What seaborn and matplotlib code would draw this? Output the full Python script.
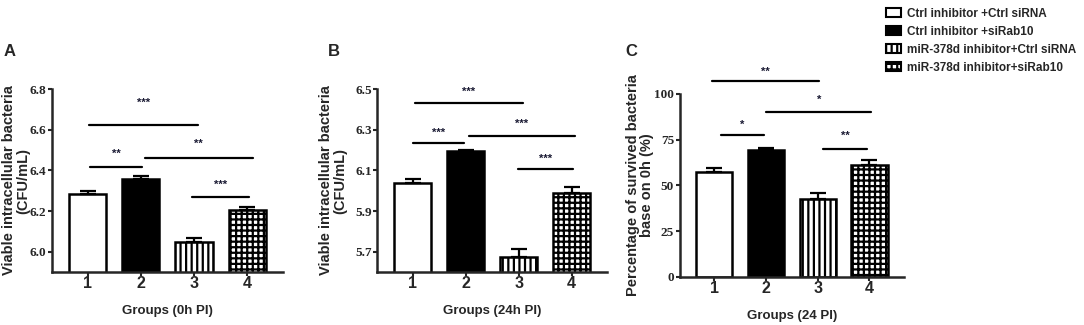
import numpy as np
import pandas as pd
import matplotlib
matplotlib.use('Agg')
import matplotlib.pyplot as plt
from matplotlib.patches import Patch
import seaborn as sns

groups = ['1', '2', '3', '4']
legend_labels = ['Ctrl inhibitor +Ctrl siRNA', 'Ctrl inhibitor +siRab10',
                 'miR-378d inhibitor+Ctrl siRNA', 'miR-378d inhibitor+siRab10']

# panel A - 0h PI
a_mean = [6.283, 6.360, 6.050, 6.205]
a_err = [0.017, 0.012, 0.017, 0.017]
# panel B - 24h PI
b_mean = [6.040, 6.194, 5.676, 5.990]
b_err = [0.018, 0.007, 0.035, 0.028]
# panel C - % survived
c_mean = [57.3, 69.2, 42.5, 61.0]
c_err = [2.0, 1.3, 3.3, 2.7]

# significance brackets: (start, end, line y, text y, stars)
a_sig = [(0.02, 2.08, 6.624, 6.73, '***'), (0.04, 1.03, 6.415, 6.48, '**'),
         (1.07, 3.11, 6.46, 6.53, '**'), (1.97, 3.04, 6.27, 6.33, '***')]
b_sig = [(0.04, 2.08, 6.43, 6.485, '***'), (0.0, 0.96, 6.237, 6.285, '***'),
         (1.06, 3.06, 6.27, 6.33, '***'), (1.98, 3.02, 6.105, 6.155, '***')]
c_sig = [(-0.04, 2.03, 107, 112, '**'), (1.0, 3.04, 90, 96.5, '*'),
         (0.12, 0.96, 77.6, 83, '*'), (2.1, 2.96, 70, 77, '**')]

sns.set_style('ticks')
plt.rcParams['font.family'] = ['Liberation Sans', 'DejaVu Sans']
plt.rcParams['hatch.linewidth'] = 1.6

fills = ['white', 'black', 'white', 'white']
hatches = [None, None, '|||', '+++']

fig = plt.figure(figsize=(10.84, 3.25), dpi=100)
ax_a = fig.add_axes([0.048, 0.163, 0.213, 0.563])
ax_b = fig.add_axes([0.348, 0.163, 0.212, 0.563])
ax_c = fig.add_axes([0.627, 0.148, 0.207, 0.563])


def panel(ax, mean, err, sig, ylim, yticks, fmt, ylabel, xlabel, label_x):
    df = pd.DataFrame({'group': groups, 'value': mean})
    sns.barplot(data=df, x='group', y='value', hue='group', palette=fills,
                legend=False, width=0.7, edgecolor='black', linewidth=1.8,
                errorbar=None, ax=ax)
    for patch, h in zip(ax.patches, hatches):
        if h:
            patch.set_hatch(h)
    ax.errorbar(range(len(groups)), mean, yerr=[np.zeros(len(err)), err],
                fmt='none', ecolor='black', elinewidth=1.6, capsize=6,
                capthick=1.6, zorder=1)
    for x0, x1, y, ty, s in sig:
        ax.plot([x0, x1], [y, y], color='black', lw=1.6, clip_on=False)
        ax.text((x0 + x1) / 2, ty, s, ha='center', va='center', fontsize=8,
                fontweight='bold', color='#1a1a33', clip_on=False)
    ax.set_xlim(-0.67, 3.67)
    ax.set_ylim(*ylim)
    ax.set_yticks(yticks)
    ax.set_yticklabels([fmt.format(t) for t in yticks], family='Liberation Serif',
                       fontweight='bold', fontsize=9.5)
    ax.set_xticks(range(4))
    ax.set_xticklabels(groups, fontweight='bold', fontsize=11.5)
    ax.tick_params(axis='y', length=3, width=1.5, pad=1)
    ax.tick_params(axis='x', length=3, width=1.5, pad=0)
    for sp in ['left', 'bottom']:
        ax.spines[sp].set_linewidth(1.8)
    sns.despine(ax=ax)
    ax.set_ylabel(ylabel, fontweight='bold', fontsize=10.5, linespacing=1.0)
    ax.yaxis.set_label_coords(label_x, 0.5)
    ax.set_xlabel(xlabel, fontweight='bold', fontsize=9.5, labelpad=10)


panel(ax_a, a_mean, a_err, a_sig, (5.9, 6.8), [6.0, 6.2, 6.4, 6.6, 6.8], '{:.1f}',
      'Viable intracellular bacteria\n(CFU/mL)', 'Groups (0h PI)', -0.095)
panel(ax_b, b_mean, b_err, b_sig, (5.6, 6.5), [5.7, 5.9, 6.1, 6.3, 6.5], '{:.1f}',
      'Viable intracellular bacteria\n(CFU/mL)', 'Groups (24h PI)', -0.13)
panel(ax_c, c_mean, c_err, c_sig, (0, 100), [0, 25, 50, 75, 100], '{:.0f}',
      'Percentage of survived bacteria\nbase on 0h (%)', 'Groups (24 PI)', -0.116)

for lab, x in zip(['A', 'B', 'C'], [10, 334, 631]):
    fig.text(x / 1084, 1 - 51 / 325, lab, fontsize=12, fontweight='bold',
             ha='center', va='center')

handles = [Patch(facecolor=f, edgecolor='black', hatch=h, linewidth=1.5)
           for f, h in zip(fills, hatches)]
fig.legend(handles, legend_labels, loc='upper left', bbox_to_anchor=(0.813, 0.99),
           frameon=False, prop={'weight': 'bold', 'size': 8.5},
           handlelength=1.3, handleheight=0.8, handletextpad=0.45, labelspacing=0.5,
           borderaxespad=0)

fig.savefig('out.png', dpi=100)
